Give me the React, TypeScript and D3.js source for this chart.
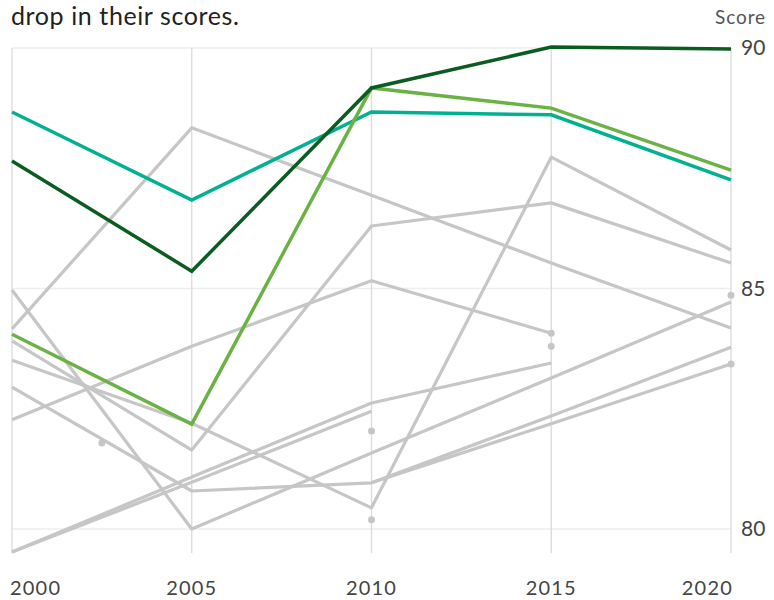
import React from "react";
import * as d3 from "d3";

const years = [2000, 2005, 2010, 2015, 2020];
const yTicks = [80, 85, 90];

// grey background series (null = no value that year)
const grey1 = [84.16, 88.34, 86.94, 85.53, 84.18];
const grey2 = [84.97, 80.0, 81.58, 83.14, 84.72];
const grey3 = [82.27, 83.8, 85.16, 84.07, null];
const grey4 = [79.52, 81.08, 82.62, 83.45, null];
const grey5 = [83.91, 81.64, 86.3, 86.78, 85.53];
const grey6 = [83.51, 82.2, 80.44, 87.73, 85.8];
const grey7 = [82.95, 80.79, 80.96, 82.35, 83.78];
const grey8 = [79.52, 80.97, 82.45, null, null];
const grey9 = [null, null, 80.96, 82.19, 83.43];

// isolated points
const dotYears = [2002.5, 2010, 2010, 2015, 2015, 2020, 2020];
const dotValues = [81.79, 82.04, 80.19, 84.07, 83.8, 84.86, 83.43];

// highlighted series
const tealValues = [88.67, 86.84, 88.67, 88.61, 87.26];
const lightGreenValues = [84.05, 82.18, 89.17, 88.75, 87.46];
const darkGreenValues = [87.65, 85.36, 89.17, 90.02, 89.98];

const greySeries = [grey1, grey2, grey3, grey4, grey5, grey6, grey7, grey8, grey9];

const FONT = "Lato, 'Open Sans', sans-serif";

export default function App() {
  const width = 774;
  const height = 600;

  const x = d3.scaleLinear().domain([2000, 2020]).range([12, 731]);
  const y = d3.scaleLinear().domain([80, 90]).range([529, 48]);
  const plotBottom = 553;

  const line = d3
    .line<number | null>()
    .defined((d) => d != null)
    .x((_, i) => x(years[i]))
    .y((d) => y(d as number));

  return (
    <svg
      width={width}
      height={height}
      style={{ position: "absolute", left: 0, top: 0, background: "#fff" }}
    >
      <text x={11} y={25} fontFamily={FONT} fontSize={25} fill="#222" letterSpacing={0.6}>
        drop in their scores.
      </text>
      <text x={766} y={24} textAnchor="end" fontFamily={FONT} fontSize={19} fill="#555" letterSpacing={0.9}>
        Score
      </text>

      {yTicks.map((t) => (
        <line key={"h" + t} x1={x(2000)} x2={x(2020)} y1={y(t)} y2={y(t)} stroke="#eeeeee" strokeWidth={1.5} />
      ))}
      {years.map((yr) => (
        <line key={"v" + yr} x1={x(yr)} x2={x(yr)} y1={y(90)} y2={plotBottom} stroke="#dadada" strokeWidth={1.3} />
      ))}

      {greySeries.map((s, i) => (
        <path key={"g" + i} d={line(s) || ""} fill="none" stroke="#c6c6c6" strokeWidth={3.2} strokeLinejoin="round" />
      ))}
      {dotValues.map((v, i) => (
        <circle key={"d" + i} cx={x(dotYears[i])} cy={y(v)} r={3.5} fill="#c6c6c6" />
      ))}

      <path d={line(tealValues) || ""} fill="none" stroke="#00b191" strokeWidth={3.5} />
      <path d={line(lightGreenValues) || ""} fill="none" stroke="#6bb245" strokeWidth={3.5} />
      <path d={line(darkGreenValues) || ""} fill="none" stroke="#0b5c20" strokeWidth={3.5} />

      {yTicks.map((t) => (
        <text
          key={"yt" + t}
          x={741}
          y={Math.round(y(t)) + 7}
          fontFamily={FONT}
          fontSize={21}
          fill="#444"
        >
          {String(t)}
        </text>
      ))}
      <g fontFamily={FONT} fontSize={20} fill="#444">
        {years.map((yr, i) => (
          <text
            key={"xt" + yr}
            x={i === 0 ? x(yr) - 2 : i === years.length - 1 ? x(yr) + 2 : x(yr)}
            y={595}
            textAnchor={i === 0 ? "start" : i === years.length - 1 ? "end" : "middle"}
            letterSpacing={1.2}
          >
            {String(yr)}
          </text>
        ))}
      </g>
    </svg>
  );
}
